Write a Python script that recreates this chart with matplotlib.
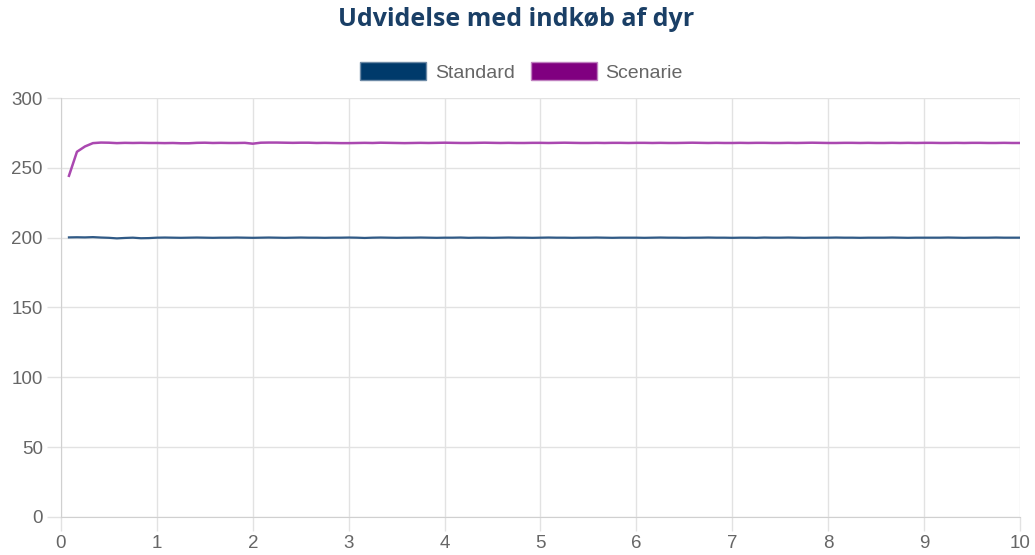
import numpy as np
import matplotlib
matplotlib.use("Agg")
import matplotlib.pyplot as plt
from matplotlib.patches import Patch

title = "Udvidelse med indkøb af dyr"
labels = ["Standard", "Scenarie"]

# monthly steps over 10 years
months = list(range(1, 121))

standard = [
    200.2, 200.3, 200.2, 200.4, 200.1, 199.9, 199.5, 199.8, 200.0, 199.6, 199.7, 200.0,
    200.1, 200.0, 199.9, 200.0, 200.1, 200.0, 199.9, 200.0, 200.0, 200.1, 200.0, 199.9,
    200.0, 200.1, 200.0, 199.9, 200.0, 200.1, 200.0, 200.0, 199.9, 200.0, 200.0, 200.1,
    200.0, 199.8, 200.0, 200.1, 200.0, 199.9, 200.0, 200.0, 200.1, 200.0, 199.9, 200.0,
    200.0, 200.1, 199.9, 200.0, 200.0, 199.9, 200.0, 200.1, 200.0, 200.0, 199.9, 200.0,
    200.1, 200.0, 200.0, 199.9, 200.0, 200.0, 200.1, 200.0, 199.9, 200.0, 200.0, 200.0,
    199.9, 200.0, 200.1, 200.0, 200.0, 199.9, 200.0, 200.0, 200.1, 200.0, 200.0, 199.9,
    200.0, 200.0, 199.9, 200.1, 200.0, 200.0, 200.1, 200.0, 199.9, 200.0, 200.0, 200.0,
    200.1, 200.0, 200.0, 199.9, 200.0, 200.0, 200.0, 200.1, 200.0, 199.9, 200.0, 200.0,
    200.0, 200.0, 200.1, 200.0, 199.9, 200.0, 200.0, 200.0, 200.1, 200.0, 200.0, 200.0,
]

scenarie = [
    244.3, 261.5, 265.3, 267.7, 268.1, 268.0, 267.7, 267.9, 267.8, 267.9, 267.8, 267.8,
    267.7, 267.8, 267.6, 267.6, 267.9, 268.0, 267.8, 267.9, 267.8, 267.8, 267.9, 267.3,
    268.0, 268.1, 268.1, 268.0, 267.9, 268.0, 268.0, 267.8, 267.9, 267.8, 267.7, 267.7,
    267.8, 267.9, 267.8, 268.0, 267.9, 267.8, 267.7, 267.8, 267.9, 267.8, 267.9, 268.0,
    267.9, 267.8, 267.8, 267.9, 268.0, 267.9, 267.8, 267.9, 267.8, 267.8, 267.9, 267.9,
    267.8, 267.9, 268.0, 267.9, 267.8, 267.8, 267.9, 267.8, 267.9, 267.9, 267.8, 267.9,
    267.9, 267.8, 267.9, 267.8, 267.8, 267.9, 268.0, 267.9, 267.8, 267.9, 267.8, 267.8,
    267.9, 267.8, 267.9, 267.9, 267.8, 267.8, 267.9, 267.8, 267.9, 268.0, 267.9, 267.8,
    267.8, 267.9, 267.9, 267.8, 267.9, 267.8, 267.8, 267.9, 267.8, 267.9, 267.8, 267.9,
    267.9, 267.8, 267.8, 267.9, 267.8, 267.9, 267.9, 267.8, 267.8, 267.9, 267.8, 267.8,
]

x_ticks = list(range(0, 11))
y_ticks = [0, 50, 100, 150, 200, 250, 300]

navy = "#003a6b"
purple = "#800080"
grey = "#666666"
grid_col = "#e2e2e2"

plt.rcParams["font.family"] = ["Liberation Sans", "DejaVu Sans"]

fig = plt.figure(figsize=(10.35, 5.55), dpi=100)
ax = fig.add_axes([0.0589, 0.0685, 0.9266, 0.7549])

years = np.array(months) / 12.0
ax.plot(years, standard, color="#305a86", lw=1.6, zorder=3)
ax.plot(years, scenarie, color="#aa48b0", lw=1.8, zorder=3)

ax.set_xlim(0, 10)
ax.set_ylim(0, 300)
ax.set_xticks(x_ticks)
ax.set_yticks(y_ticks)
ax.grid(True, color=grid_col, lw=1)
for s in ["top", "right"]:
    ax.spines[s].set_visible(False)
for s in ["left", "bottom"]:
    ax.spines[s].set_color("#d0d0d0")
ax.tick_params(colors=grey, labelsize=13.5, length=10, width=1, pad=3)
ax.tick_params(axis="both", color=grid_col)

fig.text(0.4985, 0.965, title, ha="center", va="center", fontsize=18,
         fontweight="bold", color="#1a3f66", family=["Open Sans", "DejaVu Sans"])

handles = [Patch(facecolor=navy, edgecolor="#6d8aa6", lw=1),
           Patch(facecolor=purple, edgecolor="#c080c0", lw=1)]
leg = fig.legend(handles, labels, loc="center", bbox_to_anchor=(0.504, 0.870),
                 ncol=2, frameon=False, fontsize=14, handlelength=3.4,
                 handleheight=1.05, handletextpad=0.45, columnspacing=0.8)
for t in leg.get_texts():
    t.set_color(grey)

fig.savefig("out.png", dpi=100)
